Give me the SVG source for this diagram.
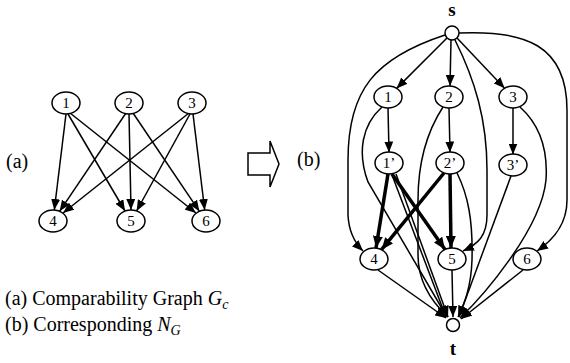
<svg xmlns="http://www.w3.org/2000/svg" width="570" height="363" viewBox="0 0 570 363">
<style>
.n{fill:#fff;stroke:#000;stroke-width:1.5}
.lb{font-family:"Liberation Serif","Times New Roman",serif;font-size:15px;text-anchor:middle;fill:#000}
.tx{font-family:"Liberation Serif","Times New Roman",serif;font-size:20px;fill:#000}
.bd{font-family:"Liberation Serif","Times New Roman",serif;font-size:19px;font-weight:bold;text-anchor:middle;fill:#000}
.e{fill:none;stroke:#000;stroke-width:1.5}
.a{marker-end:url(#ah)}
.b{fill:none;stroke:#000;stroke-width:3.5;marker-end:url(#bh)}
</style>
<defs>
<marker id="ah" markerUnits="userSpaceOnUse" markerWidth="11" markerHeight="9" refX="11" refY="4.5" orient="auto"><path d="M0,0 L11,4.5 L0,9 z" fill="#000"/></marker>
<marker id="bh" markerUnits="userSpaceOnUse" markerWidth="12" markerHeight="10" refX="12" refY="5" orient="auto"><path d="M0,0 L12,5 L0,10 z" fill="#000"/></marker>
</defs>
<rect width="570" height="363" fill="#fff"/>
<g id="connectors">
<path class="e a" d="M66,114 L54.3,210"/>
<path class="e a" d="M68,114 L125,211"/>
<path class="e a" d="M70,113 L196,213"/>
<path class="e a" d="M126,113 L59.6,211.3"/>
<path class="e a" d="M129,114 L131,210"/>
<path class="e a" d="M133,113 L199.4,211.3"/>
<path class="e a" d="M189,113 L63,213"/>
<path class="e a" d="M190,114 L136.6,211"/>
<path class="e a" d="M193,114 L204.7,210"/>
<path class="e a" d="M447,38 L396.6,88.4"/>
<path class="e a" d="M451,40 L450,86"/>
<path class="e a" d="M457,38 L504.6,88.2"/>
<path class="e a" d="M445,35 C375,58 348,90 348,160 L348,215 Q349,237 363,251"/>
<path class="e a" d="M459,33 C525,30 567,45 567,110 L567,200 C567,225 553,240 537,251"/>
<path class="e a" d="M455,40 C475,80 487,120 487,170 L487,215 C487,236 478,244 463,251"/>
<path class="e a" d="M388,108 L389,152.5"/>
<path class="e a" d="M449,108 L450,152.5"/>
<path class="e a" d="M513,108 L513,154.5"/>
<path class="b" d="M388,174 L376,248"/>
<path class="b" d="M392,174 L445,249.4"/>
<path class="b" d="M444,173 L381.5,249.7"/>
<path class="b" d="M450,174 L451,248"/>
<path class="e a" d="M382,107 C362,125 357,152 368,182 L447,317"/>
<path class="e a" d="M392,175 L446,317"/>
<path class="e a" d="M396,174 L448,317"/>
<path class="e a" d="M443,107 C428,130 418,160 418,200 L418,255 C418,285 435,305 448,317"/>
<path class="e a" d="M457,173 C468,195 473,220 472,260 C471,290 463,306 458,317"/>
<path class="e a" d="M520,107 C540,125 548,150 546,180 C541,230 482,297 460,318"/>
<path class="e a" d="M511,176 L459,317"/>
<path class="e a" d="M378,270 L446,318"/>
<path class="e a" d="M452,270 L453,317"/>
<path class="e a" d="M523,270 L461,319"/>
</g>
<g id="a1"><ellipse class="n" cx="66" cy="103" rx="14" ry="11"/><text class="lb" x="66" y="108">1</text></g>
<g id="a2"><ellipse class="n" cx="129" cy="103" rx="14" ry="11"/><text class="lb" x="129" y="108">2</text></g>
<g id="a3"><ellipse class="n" cx="192" cy="103" rx="14" ry="11"/><text class="lb" x="192" y="108">3</text></g>
<g id="a4"><ellipse class="n" cx="53" cy="221" rx="14" ry="11"/><text class="lb" x="53" y="226">4</text></g>
<g id="a5"><ellipse class="n" cx="131" cy="221" rx="14" ry="11"/><text class="lb" x="131" y="226">5</text></g>
<g id="a6"><ellipse class="n" cx="206" cy="221" rx="14" ry="11"/><text class="lb" x="206" y="226">6</text></g>
<g id="s"><circle class="n" cx="452" cy="33" r="7"/><text class="bd" x="452" y="16">s</text></g>
<g id="b1"><ellipse class="n" cx="388" cy="97" rx="14" ry="11"/><text class="lb" x="388" y="102">1</text></g>
<g id="b2"><ellipse class="n" cx="449" cy="97" rx="14" ry="11"/><text class="lb" x="449" y="102">2</text></g>
<g id="b3"><ellipse class="n" cx="513" cy="97" rx="14" ry="11"/><text class="lb" x="513" y="102">3</text></g>
<g id="b1p"><ellipse class="n" cx="389" cy="163" rx="14" ry="11"/><text class="lb" x="389" y="168">1’</text></g>
<g id="b2p"><ellipse class="n" cx="450" cy="163" rx="14" ry="11"/><text class="lb" x="450" y="168">2’</text></g>
<g id="b3p"><ellipse class="n" cx="513" cy="165" rx="14" ry="11"/><text class="lb" x="513" y="170">3’</text></g>
<g id="b4"><ellipse class="n" cx="374" cy="259" rx="14" ry="11"/><text class="lb" x="374" y="264">4</text></g>
<g id="b5"><ellipse class="n" cx="452" cy="259" rx="14" ry="11"/><text class="lb" x="452" y="264">5</text></g>
<g id="b6"><ellipse class="n" cx="527" cy="259" rx="14" ry="11"/><text class="lb" x="527" y="264">6</text></g>
<g id="t"><circle class="n" cx="453" cy="325" r="6.5"/><text class="bd" x="453" y="355">t</text></g>
<g id="transform-arrow"><path d="M248,153 L270,153 L270,141 L279,164 L270,187 L270,175 L248,175 z" fill="#fff" stroke="#000" stroke-width="1.5" stroke-linejoin="miter"/></g>
<text class="tx" x="6" y="168">(a)</text>
<text class="tx" x="297" y="166">(b)</text>
<text class="tx" x="5" y="305">(a) Comparability Graph <tspan font-style="italic">G</tspan><tspan font-style="italic" font-size="14" dy="4">c</tspan></text>
<text class="tx" x="5" y="331">(b) Corresponding <tspan font-style="italic">N</tspan><tspan font-style="italic" font-size="14" dy="4">G</tspan></text>
</svg>
